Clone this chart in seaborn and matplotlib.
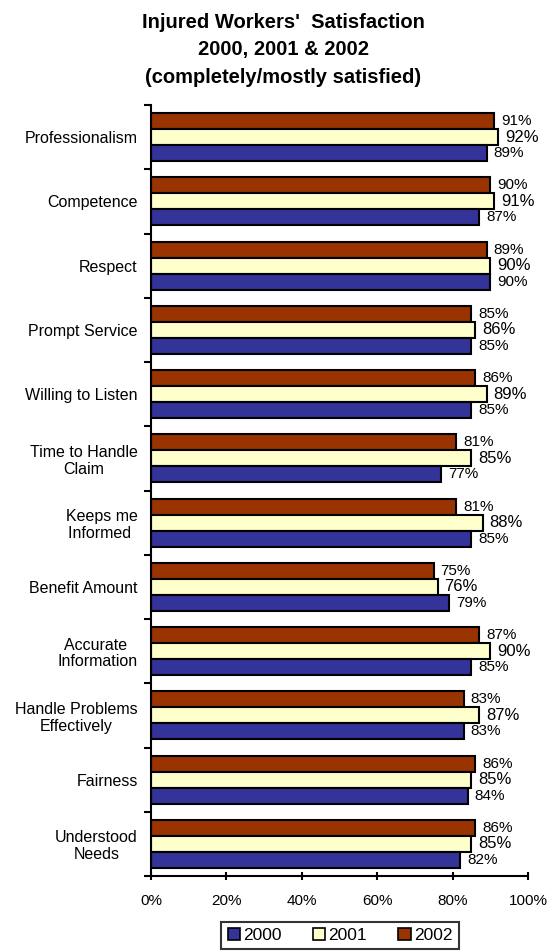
import matplotlib
matplotlib.use("Agg")
import matplotlib.pyplot as plt
from matplotlib.patches import Patch
import seaborn as sns
import pandas as pd

categories = ["Professionalism", "Competence", "Respect", "Prompt Service",
              "Willing to Listen", "Time to Handle\nClaim", "Keeps me\nInformed ",
              "Benefit Amount", "Accurate \nInformation", "Handle Problems\nEffectively",
              "Fairness", "Understood\nNeeds"]
v2000 = [89, 87, 90, 85, 85, 77, 85, 79, 85, 83, 84, 82]
v2001 = [92, 91, 90, 86, 89, 85, 88, 76, 90, 87, 85, 85]
v2002 = [91, 90, 89, 85, 86, 81, 81, 75, 87, 83, 86, 86]
years = ["2000", "2001", "2002"]
colors = {"2000": "#333399", "2001": "#FFFFCC", "2002": "#993300"}
xticks = [0, 20, 40, 60, 80, 100]

sns.set_theme(style="white")
plt.rcParams["font.family"] = ["Liberation Sans", "DejaVu Sans"]
plt.rcParams["text.color"] = "black"
plt.rcParams["xtick.color"] = "black"
plt.rcParams["ytick.color"] = "black"

df = pd.DataFrame({
    "category": categories * 3,
    "value": v2000 + v2001 + v2002,
    "year": ["2000"] * 12 + ["2001"] * 12 + ["2002"] * 12,
})

fig = plt.figure(figsize=(5.52, 9.52), dpi=100)
ax = fig.add_axes([151 / 552, 1 - 876 / 952, 377 / 552, (876 - 105) / 952])

hue_order = ["2002", "2001", "2000"]
sns.barplot(data=df, y="category", x="value", hue="year", hue_order=hue_order,
            order=categories, palette=colors, saturation=1, orient="h", errorbar=None,
            width=0.75, gap=0, edgecolor="black", linewidth=1.5, ax=ax,
            legend=False)

for cont, yr in zip(ax.containers, hue_order):
    vals = {"2000": v2000, "2001": v2001, "2002": v2002}[yr]
    fs = 12 if yr == "2001" else 11
    ax.bar_label(cont, labels=[f"{v}%" for v in vals], padding=5, fontsize=fs,
                 color="black")

ax.set_xlim(0, 100)
ax.set_ylim(len(categories) - 0.5, -0.5)
ax.set_xticks(xticks)
ax.set_xticklabels([f"{t}%" for t in xticks], fontsize=11)
ax.set_yticks([i - 0.5 for i in range(len(categories) + 1)])
ax.set_yticklabels([])
ax.set_yticks(list(range(len(categories))), minor=True)
ax.set_yticklabels(categories, minor=True, fontsize=11.5, ha="right",
                   multialignment="center", linespacing=1.15)
ax.tick_params(axis="y", which="minor", length=0, pad=9.5)
ax.tick_params(axis="y", which="major", length=5, width=1.5, direction="out", left=True)
ax.tick_params(axis="x", length=6, width=1.5, direction="inout", bottom=True, pad=10)
ax.set_xlabel("")
ax.set_ylabel("")
for s in ["top", "right"]:
    ax.spines[s].set_visible(False)
for s in ["left", "bottom"]:
    ax.spines[s].set_color("black")
    ax.spines[s].set_linewidth(1.5)

fig.text(0.513, 1 - 50 / 952, "Injured Workers'  Satisfaction\n2000, 2001 & 2002\n(completely/mostly satisfied)",
         ha="center", va="center", fontsize=14.5, fontweight="bold", linespacing=1.55)

handles = [Patch(facecolor=colors[y], edgecolor="black", linewidth=1.2, label=y) for y in years]
fig.legend(handles=handles, loc="upper center", bbox_to_anchor=(340 / 552, 1 - 922 / 952),
           ncol=3, frameon=True, fancybox=False, edgecolor="black", fontsize=12.5,
           handlelength=0.7, handleheight=0.7, handletextpad=0.2, columnspacing=1.8,
           borderpad=0.35, borderaxespad=0)
fig.legends[0].get_frame().set_linewidth(1.5)

fig.savefig("out.png", dpi=100)
